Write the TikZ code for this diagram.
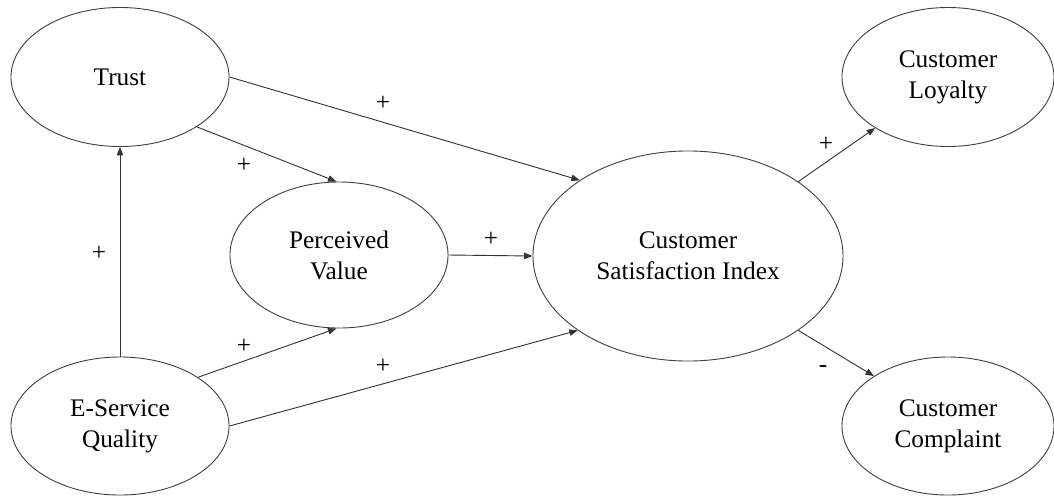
\documentclass[tikz,border=0pt]{standalone}
\usepackage{fontspec}
\setmainfont{Liberation Serif}
\usepackage{tikz}
\usetikzlibrary{shapes.geometric,arrows.meta}

\tikzset{
  latent/.style={ellipse, draw=black!75, line width=0.65pt, inner sep=0pt, align=center,
    font=\fontsize{18}{22}\selectfont},
  path/.style={draw=black!80, line width=0.65pt, -{Triangle[length=6pt,width=4.6pt]}},
  sign/.style={font=\fontsize{18}{22}\selectfont, inner sep=0pt}
}

\begin{document}
\begin{tikzpicture}[x=0.025cm,y=-0.025cm]
\useasboundingbox (0,0) rectangle (1054,495);

%constructs
\node[latent, minimum width=5.45cm, minimum height=3.475cm] (trust) at (120,77) {Trust};
\node[latent, minimum width=5.45cm, minimum height=3.45cm] (esq) at (120,426) {E-Service\\Quality};
\node[latent, minimum width=5.45cm, minimum height=3.65cm] (pv) at (339,255) {Perceived\\Value};
\node[latent, minimum width=7.75cm, minimum height=5.25cm] (csi) at (688,256) {Customer\\Satisfaction Index};
\node[latent, minimum width=5.3cm, minimum height=3.475cm] (cl) at (948,77) {Customer\\Loyalty};
\node[latent, minimum width=5.3cm, minimum height=3.45cm] (cc) at (948,426) {Customer\\Complaint};

%antecedents
\draw [path] (esq.north) -- (trust.south);
\draw [path] (trust.-33) -- (pv.92);
\draw [path] (esq.32) -- (pv.268);
\draw [path] (trust.east) -- (csi.145);
\draw [path] (esq.east) -- (csi.214);
\draw [path] (pv.east) -- (csi.west);

%consequences
\draw [path] (csi.34) -- (cl.215);
\draw [path] (csi.326) -- (cc.146);

%signs
\node[sign] (s1) at (99,253) {+};
\node[sign] (s2) at (244,165) {+};
\node[sign] (s3) at (244,346) {+};
\node[sign] (s4) at (383,103) {+};
\node[sign] (s5) at (383,366) {+};
\node[sign] (s6) at (491,239) {+};
\node[sign] (s7) at (826,144) {+};
\node[sign] (s8) at (823,369) {-};
\end{tikzpicture}
\end{document}
